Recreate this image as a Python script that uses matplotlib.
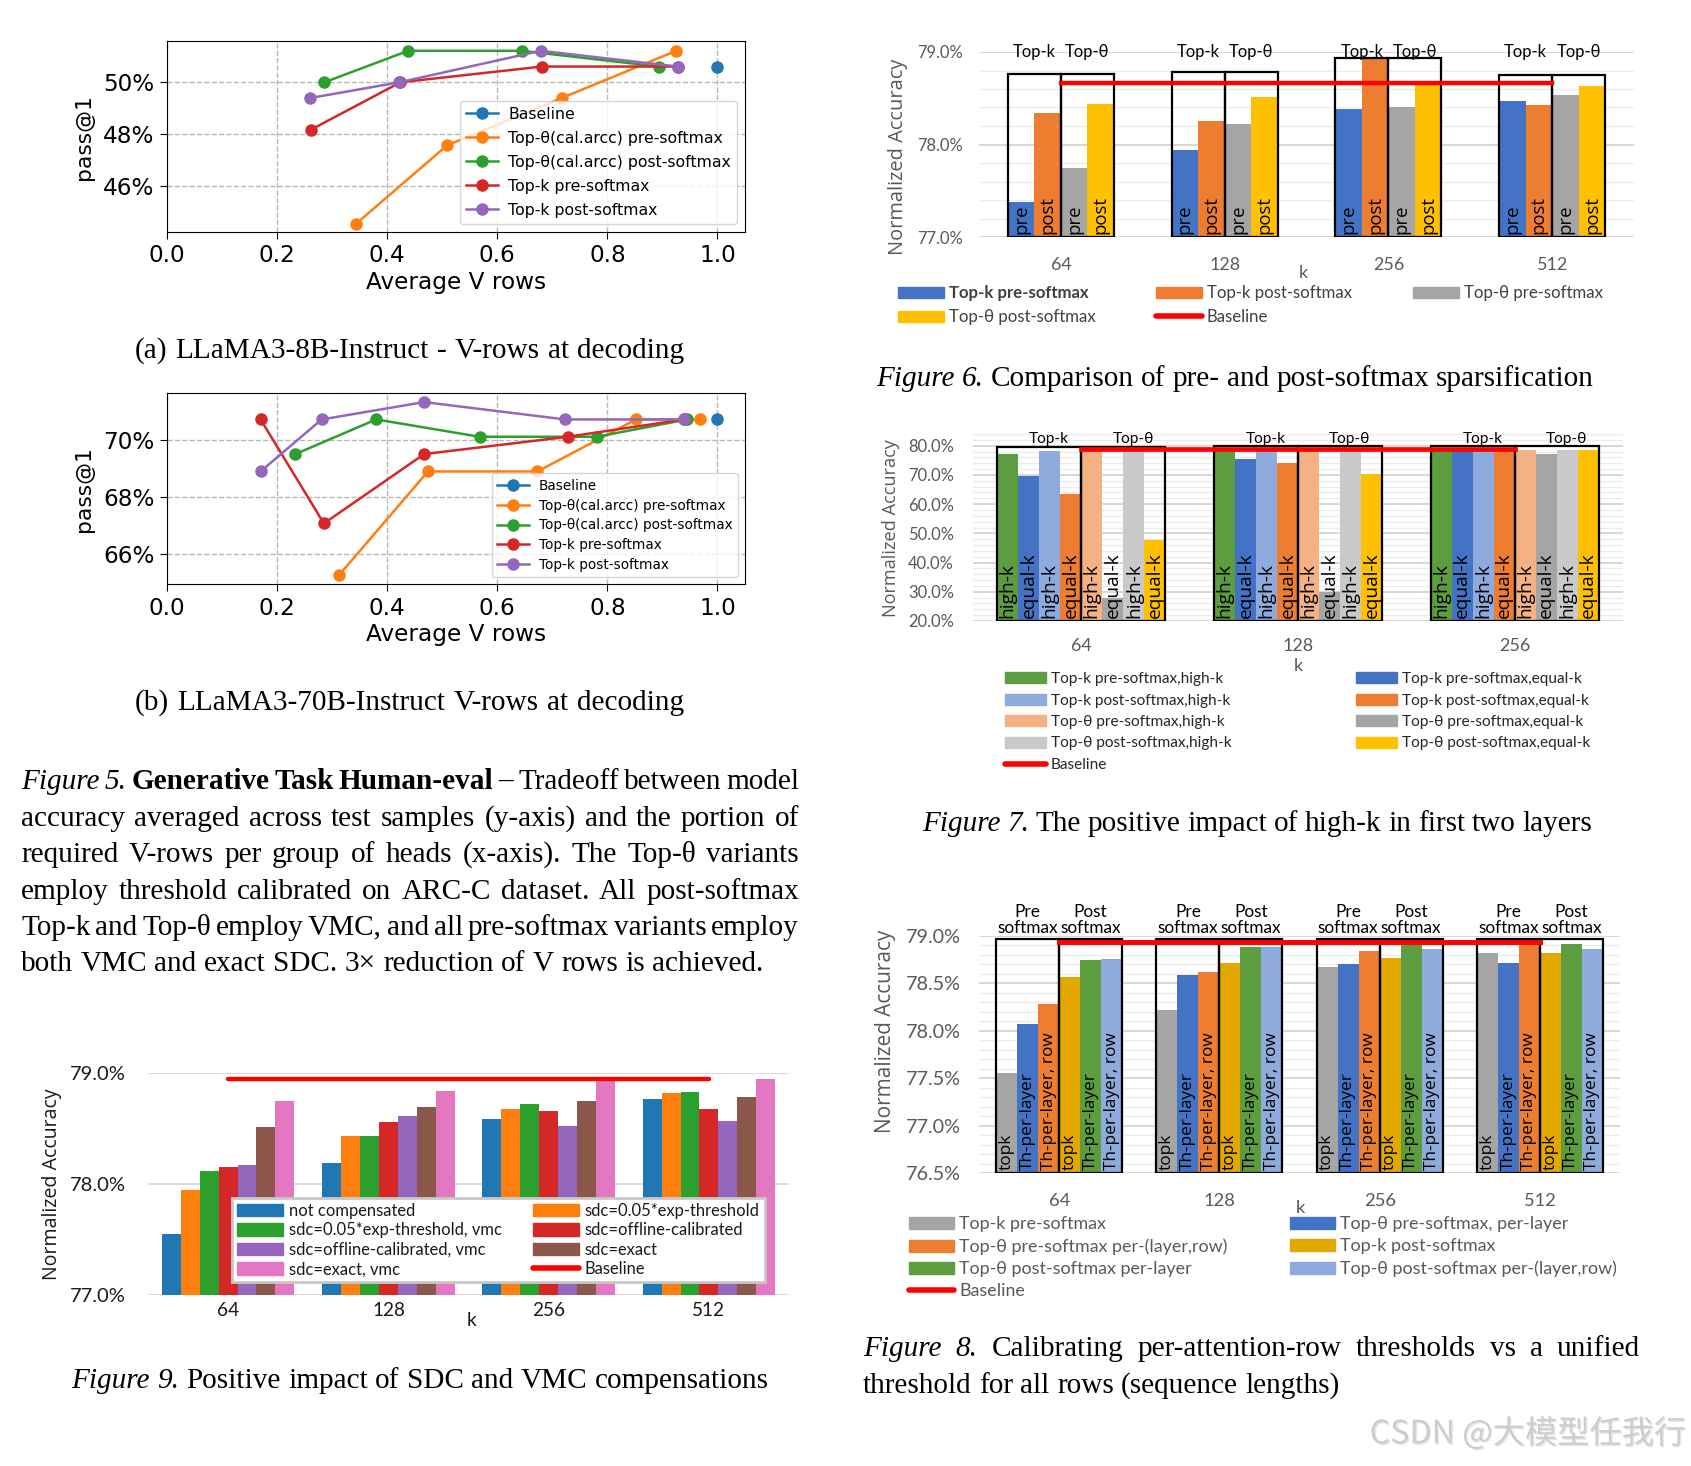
import matplotlib
matplotlib.use("Agg")
import matplotlib.pyplot as plt
import matplotlib.patheffects as pe
from matplotlib.lines import Line2D
from matplotlib.patches import Patch
from matplotlib.ticker import FuncFormatter
import numpy as np

W, H, DPI = 1691, 1466, 100
SERIF = ['Liberation Serif', 'DejaVu Serif']
XL = ['Lato', 'DejaVu Sans']          # excel chart text
XL2 = ['Open Sans', 'DejaVu Sans']    # axis titles, in-bar labels
GRAY = '#595959'
RED = '#ff0000'

# ---------------- Figure 5(a): LLaMA3-8B (Average V rows -> pass@1 %)
line_labels = ['Baseline', 'Top-θ(cal.arcc) pre-softmax', 'Top-θ(cal.arcc) post-softmax',
               'Top-k pre-softmax', 'Top-k post-softmax']
a_base_x, a_base_y = [1.0], [50.61]
a_thpre_x = [0.343, 0.509, 0.717, 0.925]
a_thpre_y = [44.51, 47.56, 49.39, 51.22]
a_thpost_x = [0.286, 0.438, 0.645, 0.894]
a_thpost_y = [50.00, 51.22, 51.22, 50.61]
a_kpre_x = [0.262, 0.424, 0.681, 0.928]
a_kpre_y = [48.17, 50.00, 50.61, 50.61]
a_kpost_x = [0.260, 0.422, 0.679, 0.928]
a_kpost_y = [49.39, 50.00, 51.22, 50.61]

# ---------------- Figure 5(b): LLaMA3-70B
b_base_x, b_base_y = [1.0], [70.73]
b_thpre_x = [0.312, 0.474, 0.673, 0.852, 0.969]
b_thpre_y = [65.24, 68.90, 68.90, 70.73, 70.73]
b_thpost_x = [0.233, 0.380, 0.568, 0.781, 0.945]
b_thpost_y = [69.51, 70.73, 70.12, 70.12, 70.73]
b_kpre_x = [0.170, 0.285, 0.467, 0.728, 0.939]
b_kpre_y = [70.73, 67.07, 69.51, 70.12, 70.73]
b_kpost_x = [0.170, 0.281, 0.467, 0.723, 0.939]
b_kpost_y = [68.90, 70.73, 71.34, 70.73, 70.73]

# ---------------- Figure 6
f6_cats = ['64', '128', '256', '512']
f6_k_pre = [77.38, 77.94, 78.38, 78.47]
f6_k_post = [78.34, 78.25, 78.93, 78.43]
f6_th_pre = [77.75, 78.22, 78.41, 78.53]
f6_th_post = [78.44, 78.51, 78.64, 78.63]
f6_box_top = [78.76, 78.78, 78.93, 78.75]
f6_base = [78.67, 78.67, 78.67, 78.67]

# ---------------- Figure 7
f7_cats = ['64', '128', '256']
f7_k_pre_high = [77.3, 78.9, 78.5]
f7_k_pre_equal = [69.5, 75.3, 78.3]
f7_k_post_high = [78.3, 78.3, 78.3]
f7_k_post_equal = [63.4, 74.1, 78.3]
f7_th_pre_high = [78.9, 78.3, 78.4]
f7_th_pre_equal = [27.8, 29.9, 77.1]
f7_th_post_high = [78.5, 78.3, 78.6]
f7_th_post_equal = [47.7, 70.4, 78.4]
f7_box_top = [79.7, 80.0, 79.8]
f7_base = [78.85, 78.85, 78.85]

# ---------------- Figure 8
f8_cats = ['64', '128', '256', '512']
f8_k_pre = [77.55, 78.22, 78.67, 78.82]
f8_th_pre_layer = [78.07, 78.59, 78.70, 78.71]
f8_th_pre_row = [78.28, 78.62, 78.84, 78.96]
f8_k_post = [78.57, 78.71, 78.77, 78.82]
f8_th_post_layer = [78.75, 78.88, 78.91, 78.92]
f8_th_post_row = [78.76, 78.88, 78.86, 78.86]
f8_box_top = [78.965, 78.965, 78.965, 78.965]
f8_base = [78.94, 78.94, 78.94, 78.94]

# ---------------- Figure 9
f9_cats = ['64', '128', '256', '512']
f9_not_comp = [77.55, 78.19, 78.59, 78.77]
f9_sdc005 = [77.95, 78.43, 78.68, 78.82]
f9_sdc005_vmc = [78.12, 78.43, 78.72, 78.83]
f9_sdc_off = [78.15, 78.56, 78.66, 78.68]
f9_sdc_off_vmc = [78.17, 78.61, 78.52, 78.57]
f9_sdc_exact = [78.51, 78.69, 78.75, 78.78]
f9_sdc_exact_vmc = [78.75, 78.84, 78.94, 78.95]
f9_base = [78.946, 78.946, 78.946, 78.946]

fig = plt.figure(figsize=(W / DPI, H / DPI), dpi=DPI)
fig.patch.set_facecolor('white')
R = fig.canvas.get_renderer()


def px_axes(l, t, r, b):
    return fig.add_axes([l / W, 1 - b / H, (r - l) / W, (b - t) / H])


def measure(s, size=20, **kw):
    t = fig.text(0, 0, s, fontsize=size, **kw)
    bb = t.get_window_extent(R)
    t.remove()
    return bb.width, bb.height


def fit(s, target, family, **kw):
    return 20 * target / measure(s, 20, family=family, **kw)[0]


def em(fs):
    return fs * DPI / 72


# ---------------------------------------------------------------- line panels
def line_panel(box, xs, ys, ylim, yticks, leg_w, leg_row, ylab_xy, xlab_y):
    l, t, r, b = box
    ax = px_axes(*box)
    for x, y, lab in zip(xs, ys, line_labels):
        ax.plot(x, y, '-o', ms=8, lw=1.8, label=lab)
    ax.set_xlim(0, 1.05)
    ax.set_ylim(*ylim)
    ax.set_xticks([0.0, 0.2, 0.4, 0.6, 0.8, 1.0])
    ax.set_yticks(yticks)
    ax.yaxis.set_major_formatter(FuncFormatter(lambda v, p: f'{v:.0f}%'))
    ax.grid(True, ls='--', color='#b8b8b8', lw=1.0)
    ax.tick_params(labelsize=fit('0.0', 37, 'DejaVu Sans'), length=5, pad=4)
    ax.set_xlabel('Average V rows', fontsize=fit('Average V rows', 180, 'DejaVu Sans'))
    ax.set_ylabel('pass@1', fontsize=fit('pass@1', 86, 'DejaVu Sans'))
    ax.xaxis.label.set_va('center')
    ax.xaxis.set_label_coords(0.5, (b - xlab_y) / (b - t))
    ax.yaxis.label.set_va('center')
    ax.yaxis.set_label_coords((ylab_xy[0] - l) / (r - l), (b - ylab_xy[1]) / (b - t))
    lfs = fit(line_labels[2], leg_w, 'DejaVu Sans')
    th = measure('Tpg', lfs, family='DejaVu Sans')[1]
    ax.legend(loc='lower right', fontsize=lfs, handlelength=32 / em(lfs),
              handletextpad=10 / em(lfs), labelspacing=(leg_row - th) / em(lfs))
    return ax


line_panel((167, 41, 745, 232),
           [a_base_x, a_thpre_x, a_thpost_x, a_kpre_x, a_kpost_x],
           [a_base_y, a_thpre_y, a_thpost_y, a_kpre_y, a_kpost_y],
           (44.2, 51.6), [46, 48, 50], 222, 24, (84, 137), 283)
line_panel((167, 393, 745, 584),
           [b_base_x, b_thpre_x, b_thpost_x, b_kpre_x, b_kpost_x],
           [b_base_y, b_thpre_y, b_thpost_y, b_kpre_y, b_kpost_y],
           (64.94, 71.66), [66, 68, 70], 193, 19.7, (84, 489), 634)


# ---------------------------------------------------------------- excel panels
def excel_axes(box, ylim, major, minor, cats, ytw, xtw, ypad_px, xlab_cy,
               ylab, ylab_w, ylab_xy, kxy, tcolor=GRAY, major_c='#d4d4d4'):
    l, t, r, b = box
    ax = px_axes(*box)
    ax.set_xlim(-0.5, len(cats) - 0.5)
    ax.set_ylim(*ylim)
    yfs = fit(f'{major[-1]:.1f}%', ytw, XL)
    xfs = fit('128', xtw, XL)
    ax.set_yticks(major, labels=[f'{v:.1f}%' for v in major], fontsize=yfs,
                  family=XL, color=tcolor)
    if minor is not None:
        ax.set_yticks(minor, minor=True)
    ax.set_xticks(range(len(cats)), labels=cats, fontsize=xfs, family=XL, color=tcolor)
    xh = measure('128', xfs, family=XL)[1]
    ax.tick_params(axis='y', which='both', length=0, pad=ypad_px * 72 / DPI)
    ax.tick_params(axis='x', length=0, pad=(xlab_cy - b - xh / 2) * 72 / DPI)
    ax.grid(axis='y', which='major', color=major_c, lw=1.3)
    ax.grid(axis='y', which='minor', color='#ececec', lw=1.0)
    ax.set_axisbelow(True)
    for s in ax.spines.values():
        s.set_visible(False)
    ax.set_ylabel(ylab, fontsize=fit(ylab, ylab_w, XL2), family=XL2, color=tcolor)
    ax.yaxis.label.set_va('center')
    ax.yaxis.set_label_coords((ylab_xy[0] - l) / (r - l), (b - ylab_xy[1]) / (b - t))
    fig.text(kxy[0] / W, 1 - kxy[1] / H, 'k', fontsize=xfs, family=XL, color=tcolor,
             ha='center', va='center')
    return ax, xfs


def grouped(ax, series, colors, w, ymin):
    n = len(series)
    xc = np.arange(len(series[0]))
    offs = [(i - (n - 1) / 2) * w for i in range(n)]
    for vals, c, o in zip(series, colors, offs):
        ax.bar(xc + o, np.asarray(vals) - ymin, bottom=ymin, width=w, color=c,
               lw=0, zorder=2)
    return xc, offs


def boxes(ax, xc, tops, lo, hi, ymin):
    ax.bar(xc + (lo + hi) / 2, np.asarray(tops) - ymin, bottom=ymin, width=hi - lo,
           fill=False, edgecolor='black', lw=1.6, zorder=3)


def inner_labels(ax, xc, offs, labels, fs, ymin):
    for o, lab in zip(offs, labels):
        for x in xc:
            ax.annotate(lab, (x + o, ymin), xytext=(0, 2.5), textcoords='offset points',
                        rotation=90, ha='center', va='bottom', fontsize=fs,
                        family=XL2, color='black', zorder=6, annotation_clip=False)


def col_legend(x, y0, dy, handles, labels, fs, hl_px, hh_px, color='#404040', bold=()):
    th = measure('Tpg', fs, family=XL)[1]
    leg = fig.legend(handles, labels, loc='upper left',
                     bbox_to_anchor=(x / W, 1 - (y0 - th / 2) / H),
                     frameon=False, borderpad=0, borderaxespad=0,
                     prop={'family': XL, 'size': fs}, labelcolor=color,
                     handlelength=hl_px / em(fs), handleheight=hh_px / em(fs),
                     handletextpad=5 / em(fs), labelspacing=(dy - th) / em(fs))
    for i in bold:
        leg.get_texts()[i].set_fontweight('bold')
    return leg


def red_handle(lw=4):
    return Line2D([0], [0], color=RED, lw=lw, solid_capstyle='round')


# ---- Figure 6
c6 = ['#4472c4', '#ed7d31', '#a5a5a5', '#ffc000']
ax6, fs6 = excel_axes((979, 52, 1634, 237), (77.0, 79.0), [77.0, 78.0, 79.0],
                      [77.2, 77.4, 77.6, 77.8, 78.2, 78.4, 78.6, 78.8], f6_cats,
                      46, 31, 16, 265, 'Normalized Accuracy', 196, (898, 157), (1303, 273))
w6 = 0.162
xc, offs = grouped(ax6, [f6_k_pre, f6_k_post, f6_th_pre, f6_th_post], c6, w6, 77.0)
boxes(ax6, xc, f6_box_top, -2 * w6, 0, 77.0)
boxes(ax6, xc, f6_box_top, 0, 2 * w6, 77.0)
ax6.plot(xc, f6_base, color=RED, lw=3.2, zorder=4)
inner_labels(ax6, xc, offs, ['pre', 'post', 'pre', 'post'], fit('post', 38, XL2), 77.0)
tfs6 = fit('Top-k', 43, XL)
for x in xc:
    ax6.annotate('Top-k', (x - w6, 79.0), ha='center', va='center', fontsize=tfs6,
                 family=XL, annotation_clip=False)
    ax6.annotate('Top-θ', (x + w6, 79.0), ha='center', va='center', fontsize=tfs6,
                 family=XL, annotation_clip=False)
lfs6 = fit('Top-k post-softmax', 145, XL)
col_legend(898, 293, 24, [Patch(color=c6[0]), Patch(color=c6[3])],
           ['Top-k pre-softmax', 'Top-θ post-softmax'], lfs6, 46, 11, bold=(0,))
col_legend(1156, 293, 24, [Patch(color=c6[1]), red_handle()],
           ['Top-k post-softmax', 'Baseline'], lfs6, 46, 11)
col_legend(1413, 293, 24, [Patch(color=c6[2])], ['Top-θ pre-softmax'], lfs6, 46, 11)

# ---- Figure 7
c7 = ['#5e9c40', '#4472c4', '#8faadc', '#ed7d31', '#f4b183', '#a5a5a5', '#c9c9c9', '#ffc000']
ax7, fs7 = excel_axes((973, 434, 1623, 621), (20.0, 84.0),
                      [20.0, 30.0, 40.0, 50.0, 60.0, 70.0, 80.0],
                      [v for v in range(22, 85, 2) if v % 10], f7_cats,
                      46, 31, 19, 646, 'Normalized Accuracy', 178, (891, 528), (1298, 666))
w7 = 0.097
xc, offs = grouped(ax7, [f7_k_pre_high, f7_k_pre_equal, f7_k_post_high, f7_k_post_equal,
                         f7_th_pre_high, f7_th_pre_equal, f7_th_post_high, f7_th_post_equal],
                   c7, w7, 20.0)
boxes(ax7, xc, f7_box_top, -4 * w7, 0, 20.0)
boxes(ax7, xc, f7_box_top, 0, 4 * w7, 20.0)
ax7.plot(xc, f7_base, color=RED, lw=3.4, zorder=4)
inner_labels(ax7, xc, offs, ['high-k', 'equal-k'] * 4, fit('equal-k', 66, XL2), 20.0)
tfs7 = fit('Top-k', 40, XL)
for x in xc:
    ax7.annotate('Top-k', (x - 2 * w7, 82.4), xytext=(7, 0), textcoords='offset points',
                 ha='center', va='center', fontsize=tfs7, family=XL, annotation_clip=False)
    ax7.annotate('Top-θ', (x + 2 * w7, 82.4), xytext=(7, 0), textcoords='offset points',
                 ha='center', va='center', fontsize=tfs7, family=XL, annotation_clip=False)
lfs7 = fit('Top-k post-softmax,high-k', 179, XL)
col_legend(1005, 679, 21.5,
           [Patch(color=c7[0]), Patch(color=c7[2]), Patch(color=c7[4]), Patch(color=c7[6]),
            red_handle()],
           ['Top-k pre-softmax,high-k', 'Top-k post-softmax,high-k', 'Top-θ pre-softmax,high-k',
            'Top-θ post-softmax,high-k', 'Baseline'], lfs7, 41, 11, color='#262626')
col_legend(1356, 679, 21.5,
           [Patch(color=c7[1]), Patch(color=c7[3]), Patch(color=c7[5]), Patch(color=c7[7])],
           ['Top-k pre-softmax,equal-k', 'Top-k post-softmax,equal-k',
            'Top-θ pre-softmax,equal-k', 'Top-θ post-softmax,equal-k'], lfs7, 41, 11,
           color='#262626')

# ---- Figure 8
c8 = ['#a5a5a5', '#4472c4', '#ed7d31', '#e2a800', '#5e9c40', '#8faadc']
ax8, fs8 = excel_axes((979, 936, 1620, 1173), (76.5, 79.0),
                      [76.5, 77.0, 77.5, 78.0, 78.5, 79.0],
                      [v / 10 for v in range(766, 790) if v % 5], f8_cats,
                      55, 32, 18, 1201, 'Normalized Accuracy', 203, (886, 1031), (1300, 1208))
w8 = 0.131
xc, offs = grouped(ax8, [f8_k_pre, f8_th_pre_layer, f8_th_pre_row, f8_k_post,
                         f8_th_post_layer, f8_th_post_row], c8, w8, 76.5)
boxes(ax8, xc, f8_box_top, -3 * w8, 0, 76.5)
boxes(ax8, xc, f8_box_top, 0, 3 * w8, 76.5)
ax8.plot(xc, f8_base, color=RED, lw=3.6, zorder=4)
inner_labels(ax8, xc, offs, ['topk', 'Th-per-layer', 'Th-per-layer, row'] * 2,
             fit('Th-per-layer, row', 137, XL2), 76.5)
tfs8 = fit('softmax', 61, XL)
for x in xc:
    ax8.annotate('Pre\nsoftmax', (x - 1.5 * w8, 79.0), xytext=(0, 0), textcoords='offset points',
                 ha='center', va='bottom', fontsize=tfs8, family=XL, linespacing=1.0,
                 annotation_clip=False)
    ax8.annotate('Post\nsoftmax', (x + 1.5 * w8, 79.0), xytext=(0, 0), textcoords='offset points',
                 ha='center', va='bottom', fontsize=tfs8, family=XL, linespacing=1.0,
                 annotation_clip=False)
lfs8 = fit('Top-θ post-softmax per-(layer,row)', 276, XL)
col_legend(909, 1224, 22.3,
           [Patch(color=c8[0]), Patch(color=c8[2]), Patch(color=c8[4]), red_handle()],
           ['Top-k pre-softmax', 'Top-θ pre-softmax per-(layer,row)',
            'Top-θ post-softmax per-layer', 'Baseline'], lfs8, 45, 12, color=GRAY)
col_legend(1290, 1224, 22.3,
           [Patch(color=c8[1]), Patch(color=c8[3]), Patch(color=c8[5])],
           ['Top-θ pre-softmax, per-layer', 'Top-k post-softmax',
            'Top-θ post-softmax per-(layer,row)'], lfs8, 45, 12, color=GRAY)

# ---- Figure 9
c9 = ['#1f77b4', '#ff7f0e', '#2ca02c', '#d62728', '#9467bd', '#8c564b', '#e377c2']
f9_labels = ['not compensated', 'sdc=0.05*exp-threshold', 'sdc=0.05*exp-threshold, vmc',
             'sdc=offline-calibrated', 'sdc=offline-calibrated, vmc', 'sdc=exact',
             'sdc=exact, vmc']
ax9, fs9 = excel_axes((148, 1073, 789, 1295), (77.0, 79.0), [77.0, 78.0, 79.0], None,
                      f9_cats, 56, 33, 22, 1311, 'Normalized Accuracy', 191, (52, 1184),
                      (472, 1320), tcolor='#1a1a1a', major_c='#d9d9d9')
w9 = 0.118
xc, offs = grouped(ax9, [f9_not_comp, f9_sdc005, f9_sdc005_vmc, f9_sdc_off, f9_sdc_off_vmc,
                         f9_sdc_exact, f9_sdc_exact_vmc], c9, w9, 77.0)
ax9.plot(xc, f9_base, color=RED, lw=3.2, zorder=4, solid_capstyle='round')
lfs9 = fit('sdc=0.05*exp-threshold, vmc', 213, XL)
h9 = [Patch(color=c) for c in c9] + [red_handle()]
l9 = f9_labels + ['Baseline']
order = [0, 2, 4, 6, 1, 3, 5, 7]
e9 = em(lfs9)
col1w = max(measure(l9[i], lfs9, family=XL)[0] for i in (0, 2, 4, 6))
th9 = measure('Tpg', lfs9, family=XL)[1]
leg9 = ax9.legend([h9[i] for i in order], [l9[i] for i in order], ncol=2, loc='upper left',
                  bbox_to_anchor=(232 / W, 1 - 1198 / H), bbox_transform=fig.transFigure,
                  prop={'family': XL, 'size': lfs9}, labelcolor='#1a1a1a',
                  handlelength=46 / e9, handleheight=13 / e9, handletextpad=6 / e9,
                  columnspacing=(296 - 46 - 6 - col1w) / e9, labelspacing=(19.4 - th9) / e9,
                  borderpad=0.3, borderaxespad=0, fancybox=False, framealpha=1,
                  edgecolor='#c8c8c8')
leg9.get_frame().set_linewidth(2)
leg9.set_zorder(10)


# ---------------------------------------------------------------- captions
def rich_line(x0, yc, runs, size, x1=None):
    words = []
    for s, st in runs:
        for wd in s.split():
            kw = dict(family=SERIF)
            if st == 'i':
                kw['style'] = 'italic'
            if st == 'b':
                kw['weight'] = 'bold'
            words.append((wd, kw, measure(wd, size, **kw)[0]))
    space = measure('a a', size, family=SERIF)[0] - measure('aa', size, family=SERIF)[0]
    if x1 is not None and len(words) > 1:
        gap = (x1 - x0 - sum(w[2] for w in words)) / (len(words) - 1)
    else:
        gap = space
    yb = yc + 0.3 * em(size)
    x = x0
    for wd, kw, ww in words:
        fig.text(x / W, 1 - yb / H, wd, ha='left', va='baseline', fontsize=size, **kw)
        x += ww + gap


last = 'both VMC and exact SDC. 3× reduction of V rows is achieved.'
CAP = 20 * 739 / measure(last, 20, family=SERIF)[0]

rich_line(135, 349, [('(a) LLaMA3-8B-Instruct - V-rows at decoding', 'n')], CAP, 684)
rich_line(135, 701, [('(b) LLaMA3-70B-Instruct V-rows at decoding', 'n')], CAP, 684)
rich_line(21, 780, [('Figure 5.', 'i'), ('Generative Task Human-eval', 'b'),
                    ('– Tradeoff between model', 'n')], CAP, 799)
rich_line(21, 817, [('accuracy averaged across test samples (y-axis) and the portion of', 'n')], CAP, 799)
rich_line(21, 853, [('required V-rows per group of heads (x-axis).  The Top-θ variants', 'n')], CAP, 799)
rich_line(21, 890, [('employ threshold calibrated on ARC-C dataset.  All post-softmax', 'n')], CAP, 799)
rich_line(21, 926, [('Top-k and Top-θ employ VMC, and all pre-softmax variants employ', 'n')], CAP, 799)
rich_line(21, 962, [(last, 'n')], CAP)
rich_line(876, 377, [('Figure 6.', 'i'),
                     ('Comparison of pre- and post-softmax sparsification', 'n')], CAP, 1594)
rich_line(922, 822, [('Figure 7.', 'i'),
                     ('The positive impact of high-k in first two layers', 'n')], CAP, 1592)
rich_line(863, 1347, [('Figure 8.', 'i'),
                      ('Calibrating per-attention-row thresholds vs a unified', 'n')], CAP, 1640)
rich_line(863, 1384, [('threshold for all rows (sequence lengths)', 'n')], CAP)
rich_line(71, 1379, [('Figure 9.', 'i'),
                     ('Positive impact of SDC and VMC compensations', 'n')], CAP, 769)

# watermark
wm = 'CSDN @大模型任我行'
wm_family = ['Noto Sans CJK SC', 'DejaVu Sans']
wfs = fit(wm, 316, wm_family)
fig.text(1686 / W, 1 - 1434 / H, wm, ha='right', va='center', fontsize=wfs,
         family=wm_family, color='#cdcdcd',
         path_effects=[pe.withSimplePatchShadow(offset=(1, -1), shadow_rgbFace='#e6e6e6',
                                                alpha=1)])

fig.savefig('out.png', dpi=DPI)
